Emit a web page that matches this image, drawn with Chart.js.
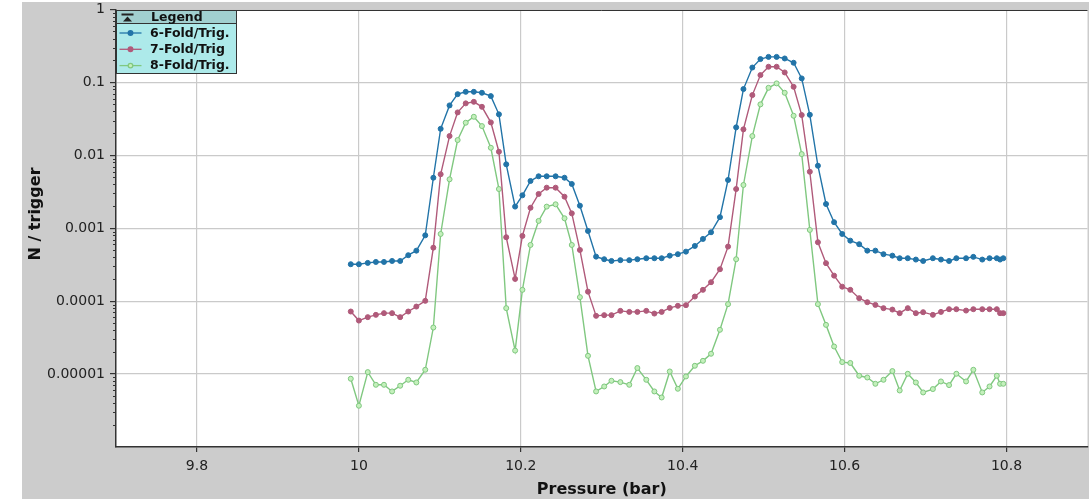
<!DOCTYPE html>
<html>
<head>
<meta charset="utf-8">
<title>N / trigger vs Pressure</title>
<script src="https://cdn.jsdelivr.net/npm/chart.js@4"></script>
<style>
  html, body { margin: 0; padding: 0; background: #ffffff; overflow: hidden; }
  #wrap { width: 1089px; height: 499px; overflow: hidden; position: relative; }
  canvas { display: block; }
</style>
</head>
<body>
<div id="wrap"><canvas id="chart" width="1091" height="499"></canvas></div>
<script>
// Pressure scan points (bar)
const pressure = [
  9.990, 10.000, 10.011, 10.021, 10.031, 10.041, 10.051, 10.061, 10.071, 10.082,
  10.092, 10.101, 10.112, 10.122, 10.132, 10.142, 10.152, 10.163, 10.173, 10.182,
  10.193, 10.202, 10.212, 10.222, 10.232, 10.243, 10.254, 10.263, 10.273, 10.283,
  10.293, 10.303, 10.312, 10.323, 10.334, 10.344, 10.355, 10.365, 10.374, 10.384,
  10.394, 10.404, 10.415, 10.425, 10.435, 10.446, 10.456, 10.466, 10.475, 10.486,
  10.496, 10.506, 10.516, 10.526, 10.537, 10.547, 10.557, 10.567, 10.577, 10.587,
  10.597, 10.607, 10.618, 10.628, 10.638, 10.648, 10.659, 10.668, 10.678, 10.688,
  10.697, 10.709, 10.719, 10.729, 10.738, 10.750, 10.759, 10.770, 10.779, 10.788,
  10.792, 10.796
];

// Coincidence rates per trigger
const sixFold = [
  3.21e-4, 3.21e-4, 3.35e-4, 3.45e-4, 3.45e-4, 3.56e-4, 3.56e-4, 4.27e-4, 4.93e-4, 8.0e-4,
  4.93e-3, 0.0231, 0.0484, 0.069, 0.0743, 0.0743, 0.0721, 0.0649, 0.0365, 0.00753,
  0.00198, 0.00283, 0.00445, 0.00516, 0.00516, 0.00516, 0.00493, 0.00405, 0.00204, 9.18e-4,
  4.08e-4, 3.76e-4, 3.56e-4, 3.65e-4, 3.65e-4, 3.76e-4, 3.88e-4, 3.88e-4, 3.88e-4, 4.21e-4,
  4.41e-4, 4.78e-4, 5.72e-4, 7.14e-4, 8.81e-4, 1.42e-3, 4.59e-3, 0.0242, 0.081, 0.160,
  0.209, 0.224, 0.224, 0.213, 0.186, 0.1135, 0.036, 7.2e-3, 2.15e-3, 1.21e-3,
  8.35e-4, 6.76e-4, 6.04e-4, 4.93e-4, 4.93e-4, 4.41e-4, 4.21e-4, 3.88e-4, 3.88e-4, 3.72e-4,
  3.56e-4, 3.88e-4, 3.72e-4, 3.56e-4, 3.88e-4, 3.88e-4, 4.05e-4, 3.72e-4, 3.88e-4, 3.88e-4,
  3.72e-4, 3.88e-4
];
const sevenFold = [
  7.21e-5, 5.42e-5, 6.04e-5, 6.49e-5, 6.85e-5, 6.85e-5, 6.04e-5, 7.21e-5, 8.43e-5, 1.01e-4,
  5.42e-4, 5.5e-3, 0.01837, 0.0388, 0.0516, 0.0542, 0.0463, 0.0283, 0.0112, 7.53e-4,
  2.02e-4, 7.85e-4, 1.91e-3, 2.95e-3, 3.6e-3, 3.6e-3, 2.71e-3, 1.60e-3, 5.04e-4, 1.35e-4,
  6.29e-5, 6.43e-5, 6.43e-5, 7.36e-5, 7.13e-5, 7.13e-5, 7.36e-5, 6.76e-5, 7.13e-5, 8.09e-5,
  8.63e-5, 8.82e-5, 1.156e-4, 1.43e-4, 1.82e-4, 2.74e-4, 5.6e-4, 3.45e-3, 0.0227, 0.067,
  0.126, 0.164, 0.164, 0.137, 0.087, 0.0357, 5.96e-3, 6.43e-4, 3.32e-4, 2.24e-4,
  1.58e-4, 1.43e-4, 1.10e-4, 9.68e-5, 8.89e-5, 8.02e-5, 7.67e-5, 6.85e-5, 8.02e-5, 6.85e-5,
  7.06e-5, 6.49e-5, 7.13e-5, 7.76e-5, 7.76e-5, 7.43e-5, 7.76e-5, 7.76e-5, 7.76e-5, 7.76e-5,
  6.85e-5, 6.85e-5
];
const eightFold = [
  8.63e-6, 3.68e-6, 1.064e-5, 7.13e-6, 7.13e-6, 5.78e-6, 6.92e-6, 8.35e-6, 7.67e-6, 1.146e-5,
  4.35e-5, 8.35e-4, 4.69e-3, 0.0162, 0.028, 0.0338, 0.0252, 0.0127, 3.45e-3, 8.02e-5,
  2.10e-5, 1.43e-4, 5.9e-4, 1.26e-3, 1.98e-3, 2.13e-3, 1.37e-3, 5.9e-4, 1.135e-4, 1.78e-5,
  5.78e-6, 6.76e-6, 8.09e-6, 7.76e-6, 7.13e-6, 1.21e-5, 8.35e-6, 5.78e-6, 4.78e-6, 1.086e-5,
  6.29e-6, 9.27e-6, 1.30e-5, 1.52e-5, 1.90e-5, 4.05e-5, 9.1e-5, 3.76e-4, 3.92e-3, 0.01837,
  0.05, 0.0843, 0.097, 0.0721, 0.0349, 0.0104, 9.48e-4, 9.1e-5, 4.73e-5, 2.39e-5,
  1.46e-5, 1.42e-5, 9.48e-6, 8.98e-6, 7.36e-6, 8.35e-6, 1.10e-5, 5.96e-6, 1.01e-5, 7.67e-6,
  5.6e-6, 6.23e-6, 7.92e-6, 7.06e-6, 1.01e-5, 7.92e-6, 1.146e-5, 5.6e-6, 6.76e-6, 9.48e-6,
  7.36e-6, 7.36e-6
];

const seriesLabels = ['6-Fold/Trig.', '7-Fold/Trig', '8-Fold/Trig.'];

// Axis ticks
const xTickValues = [9.8, 10.0, 10.2, 10.4, 10.6, 10.8];
const xTickLabels = ['9.8', '10', '10.2', '10.4', '10.6', '10.8'];
const yTickValues = [1, 0.1, 0.01, 0.001, 0.0001, 0.00001];
const yTickLabels = ['1', '0.1', '0.01', '0.001', '0.0001', '0.00001'];

const FONT = 'DejaVu Sans';

function toPoints(ys) {
  return ys.map((y, i) => ({ x: pressure[i], y: y }));
}

// Gray frame around a white plotting area
const framePlugin = {
  id: 'frame',
  beforeDraw(chart) {
    const { ctx, chartArea: a, width, height } = chart;
    ctx.save();
    ctx.fillStyle = '#ffffff';
    ctx.fillRect(0, 0, width, height);
    ctx.fillStyle = '#cccccc';
    ctx.fillRect(22, 2, width - 22, height - 2);
    ctx.fillStyle = '#ffffff';
    ctx.fillRect(a.left, a.top, a.right - a.left, a.bottom - a.top);
    ctx.restore();
  },
  afterDraw(chart) {
    const { ctx, chartArea: a } = chart;
    const y = chart.scales.y;
    ctx.save();
    // top edge of the plotting area
    ctx.strokeStyle = '#333333';
    ctx.lineWidth = 1;
    ctx.beginPath();
    ctx.moveTo(a.left, Math.round(a.top) + 0.5);
    ctx.lineTo(a.right, Math.round(a.top) + 0.5);
    ctx.stroke();
    // minor log ticks on the left axis
    ctx.beginPath();
    for (let d = -6; d < 0; d++) {
      for (let m = 2; m <= 9; m++) {
        const py = Math.round(y.getPixelForValue(m * Math.pow(10, d))) + 0.5;
        ctx.moveTo(a.left - 3, py);
        ctx.lineTo(a.left, py);
      }
    }
    ctx.stroke();
    // vertical axis title
    ctx.translate(36, 214);
    ctx.rotate(-Math.PI / 2);
    ctx.fillStyle = '#111111';
    ctx.font = 'bold 16px "' + FONT + '"';
    ctx.textAlign = 'center';
    ctx.textBaseline = 'middle';
    ctx.fillText('N / trigger', 0, 0);
    ctx.restore();
  }
};

// Boxed legend with a header strip in the top-left corner of the plot
const legendBoxPlugin = {
  id: 'legendBox',
  afterDatasetsDraw(chart) {
    const { ctx, chartArea: a } = chart;
    const x0 = a.left + 0.5, y0 = Math.round(a.top) + 0.5, w = 120, headH = 13, h = 63;
    ctx.save();
    ctx.globalAlpha = 0.92;
    ctx.fillStyle = '#99cccc';
    ctx.fillRect(x0, y0, w, headH);
    ctx.fillStyle = '#a6e8e8';
    ctx.fillRect(x0, y0 + headH, w, h - headH);
    ctx.globalAlpha = 1;
    ctx.strokeStyle = '#333333';
    ctx.lineWidth = 1;
    ctx.strokeRect(x0, y0, w, h);
    ctx.beginPath();
    ctx.moveTo(x0, y0 + headH);
    ctx.lineTo(x0 + w, y0 + headH);
    ctx.stroke();
    // collapse icon
    ctx.fillStyle = '#222222';
    ctx.fillRect(x0 + 5, y0 + 3, 12, 2);
    ctx.beginPath();
    ctx.moveTo(x0 + 11, y0 + 6);
    ctx.lineTo(x0 + 6.5, y0 + 11);
    ctx.lineTo(x0 + 15.5, y0 + 11);
    ctx.closePath();
    ctx.fill();
    ctx.font = 'bold 12.5px "' + FONT + '"';
    ctx.textBaseline = 'middle';
    ctx.textAlign = 'left';
    ctx.fillStyle = '#111111';
    ctx.fillText('Legend', x0 + 34.5, y0 + 7);
    chart.data.datasets.forEach((ds, i) => {
      const cy = y0 + 22.5 + i * 16.3;
      ctx.strokeStyle = ds.borderColor;
      ctx.lineWidth = 1.3;
      ctx.beginPath();
      ctx.moveTo(x0 + 3, cy);
      ctx.lineTo(x0 + 25, cy);
      ctx.stroke();
      ctx.fillStyle = ds.pointBackgroundColor;
      ctx.beginPath();
      ctx.arc(x0 + 14, cy, 2.3, 0, Math.PI * 2);
      ctx.fill();
      ctx.stroke();
      ctx.fillStyle = '#111111';
      ctx.fillText(ds.label, x0 + 33.5, cy + 0.5);
    });
    ctx.restore();
  }
};

const datasets = [
  { label: seriesLabels[0], data: toPoints(sixFold), borderColor: '#2274a8', pointBackgroundColor: '#2274a8' },
  { label: seriesLabels[1], data: toPoints(sevenFold), borderColor: '#b05a7a', pointBackgroundColor: '#b05a7a' },
  { label: seriesLabels[2], data: toPoints(eightFold), borderColor: '#80c880', pointBackgroundColor: '#c4f0bc' }
].map(ds => Object.assign(ds, {
  borderWidth: 1.4,
  pointRadius: 2.5,
  pointBorderWidth: 1,
  pointBorderColor: ds.borderColor,
  pointHoverRadius: 2.5,
  tension: 0,
  fill: false
}));

new Chart(document.getElementById('chart'), {
  type: 'line',
  data: { datasets: datasets },
  options: {
    responsive: false,
    animation: false,
    devicePixelRatio: 1,
    layout: { padding: { top: 9.5, left: 0, right: 0, bottom: 0 } },
    plugins: { legend: { display: false }, tooltip: { enabled: false } },
    scales: {
      x: {
        type: 'linear',
        min: 9.7,
        max: 10.9,
        afterFit(scale) {
          scale.height = 52;
          scale.paddingLeft = 0;
          scale.paddingRight = 0;
        },
        afterBuildTicks(scale) { scale.ticks = xTickValues.map(v => ({ value: v })); },
        ticks: {
          autoSkip: false,
          maxRotation: 0,
          padding: 6,
          color: '#222222',
          font: { family: FONT, size: 14 },
          callback(value, index) { return xTickLabels[index]; }
        },
        grid: { color: '#cacaca', lineWidth: 1.2, tickColor: '#333333', tickLength: 5, drawTicks: true },
        border: { display: true, color: '#333333', width: 1.5 },
        title: {
          display: true,
          text: 'Pressure (bar)',
          color: '#111111',
          font: { family: FONT, size: 16, weight: 'bold' },
          padding: { top: 0, bottom: 0 }
        }
      },
      y: {
        type: 'logarithmic',
        min: 1e-6,
        max: 1,
        afterFit(scale) {
          scale.width = 116;
          scale.paddingTop = 0;
          scale.paddingBottom = 0;
        },
        afterBuildTicks(scale) { scale.ticks = yTickValues.map(v => ({ value: v })); },
        ticks: {
          autoSkip: false,
          padding: 5,
          color: '#222222',
          font: { family: FONT, size: 14 },
          callback(value, index) { return yTickLabels[index]; }
        },
        grid: { color: '#cacaca', lineWidth: 1.2, tickColor: '#333333', tickLength: 6, drawTicks: true },
        border: { display: true, color: '#333333', width: 1.5 }
      }
    }
  },
  plugins: [framePlugin, legendBoxPlugin]
});
</script>
</body>
</html>
